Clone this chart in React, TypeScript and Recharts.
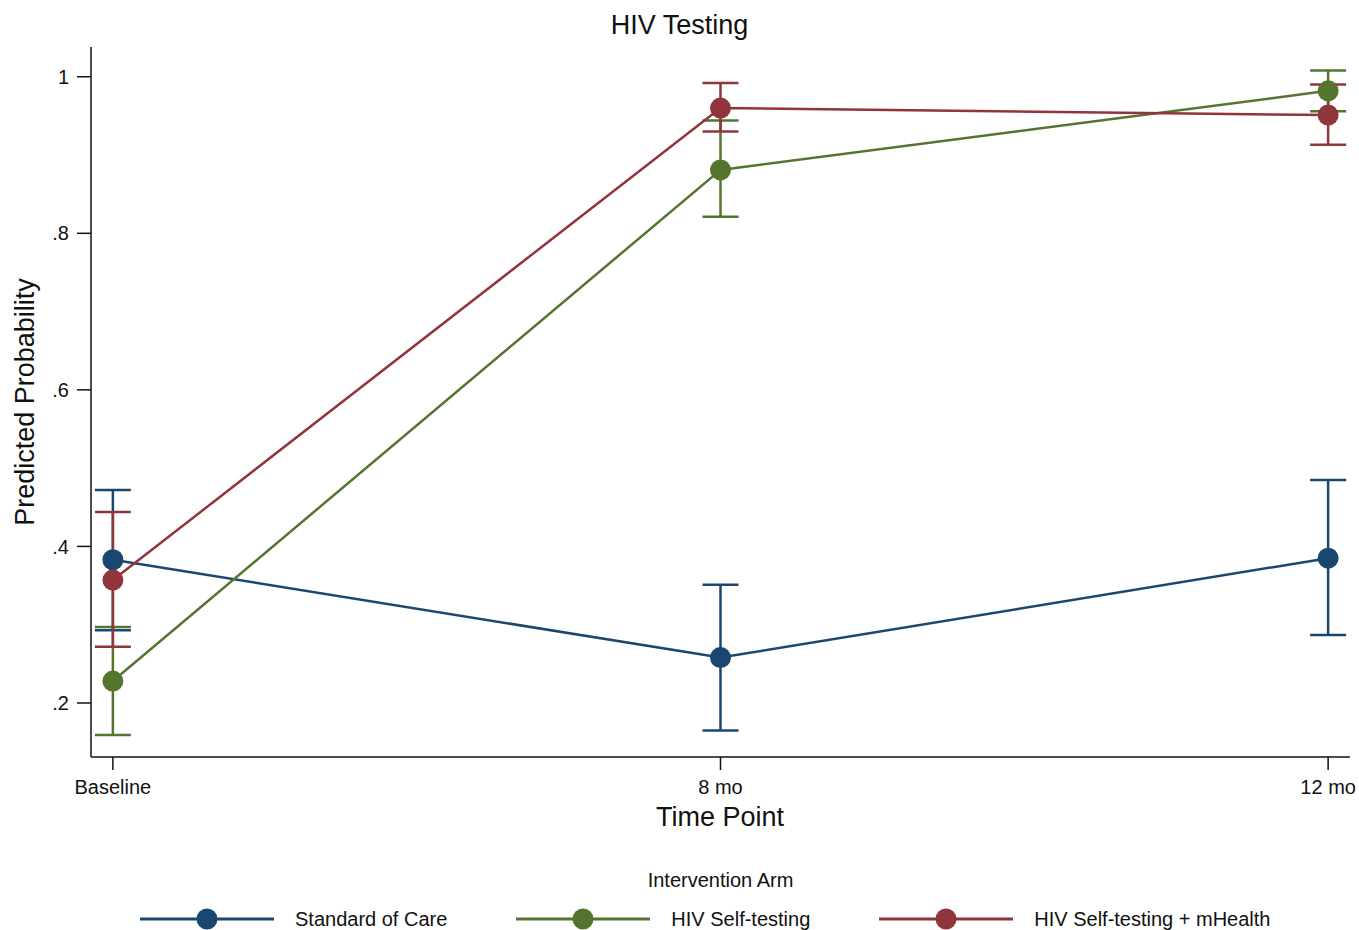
import React from "react";
import {
  LineChart,
  Line,
  XAxis,
  YAxis,
  ErrorBar,
} from "recharts";

const timePoints = ["Baseline", "8 mo", "12 mo"];
const xPos = [0, 1, 2];
const yTicks = [0.2, 0.4, 0.6, 0.8, 1];

// Standard of Care
const socMean = [0.383, 0.258, 0.385];
const socLow = [0.293, 0.165, 0.287];
const socHigh = [0.472, 0.351, 0.485];

// HIV Self-testing
const stMean = [0.228, 0.881, 0.982];
const stLow = [0.159, 0.821, 0.956];
const stHigh = [0.297, 0.944, 1.008];

// HIV Self-testing + mHealth
const mhMean = [0.357, 0.96, 0.951];
const mhLow = [0.272, 0.93, 0.913];
const mhHigh = [0.444, 0.992, 0.99];

const NAVY = "#1a476f";
const GREEN = "#55752f";
const MAROON = "#90353b";
const FONT = '"Liberation Sans", Arial, Helvetica, sans-serif';

const series = [
  { key: "soc", name: "Standard of Care", color: NAVY },
  { key: "st", name: "HIV Self-testing", color: GREEN },
  { key: "mh", name: "HIV Self-testing + mHealth", color: MAROON },
];

const data = xPos.map((x, i) => ({
  x,
  soc: socMean[i],
  socErr: [socMean[i] - socLow[i], socHigh[i] - socMean[i]],
  st: stMean[i],
  stErr: [stMean[i] - stLow[i], stHigh[i] - stMean[i]],
  mh: mhMean[i],
  mhErr: [mhMean[i] - mhLow[i], mhHigh[i] - mhMean[i]],
}));

function fmtY(v: number) {
  if (v === 1) return "1";
  return "." + Math.round(v * 10);
}

export default function App() {
  return (
    <div
      style={{
        position: "absolute",
        left: 0,
        top: 0,
        width: 1359,
        height: 930,
        overflow: "hidden",
        background: "#fff",
        fontFamily: FONT,
      }}
    >
      <LineChart
        width={1359}
        height={930}
        data={data}
        margin={{ top: 47, right: 9, left: 0, bottom: 0 }}
      >
        <XAxis
          type="number"
          dataKey="x"
          domain={[-0.036, 2.036]}
          ticks={xPos}
          allowDataOverflow
          tickFormatter={(v) => timePoints[v] ?? ""}
          height={173}
          tickSize={13}
          tickMargin={10}
          stroke="#111"
          strokeWidth={1.5}
          tick={{ fill: "#111", fontSize: 20, fontFamily: FONT }}
          label={{
            content: () => (
              <text
                x={720}
                y={826}
                textAnchor="middle"
                fontSize={27}
                fontFamily={FONT}
                fill="#111"
              >
                Time Point
              </text>
            ),
          }}
        />
        <YAxis
          type="number"
          domain={[0.131, 1.038]}
          ticks={yTicks}
          allowDataOverflow
          tickFormatter={fmtY}
          width={91}
          tickSize={14}
          tickMargin={8}
          stroke="#111"
          strokeWidth={1.5}
          tick={{ fill: "#111", fontSize: 20, fontFamily: FONT }}
          label={{
            content: () => (
              <text
                x={34}
                y={402}
                transform="rotate(-90 34 402)"
                textAnchor="middle"
                fontSize={27}
                fontFamily={FONT}
                fill="#111"
              >
                Predicted Probability
              </text>
            ),
          }}
        />
        {/* confidence caps first, so markers sit on top of them */}
        {series.map((s) => (
          <Line
            key={s.key + "-ci"}
            dataKey={s.key}
            stroke="transparent"
            strokeWidth={0}
            dot={false}
            activeDot={false}
            legendType="none"
            isAnimationActive={false}
          >
            <ErrorBar
              dataKey={s.key + "Err"}
              direction="y"
              width={18}
              stroke={s.color}
              strokeWidth={2.5}
              isAnimationActive={false}
            />
          </Line>
        ))}
        {series.map((s) => (
          <Line
            key={s.key}
            dataKey={s.key}
            name={s.name}
            stroke={s.color}
            strokeWidth={2.5}
            dot={{ r: 10.5, fill: s.color, stroke: s.color, strokeWidth: 0 }}
            activeDot={false}
            isAnimationActive={false}
          />
        ))}
      </LineChart>

      <div
        style={{
          position: "absolute",
          top: 10,
          left: 0,
          width: 1359,
          textAlign: "center",
          fontSize: 27,
          color: "#111",
        }}
      >
        HIV Testing
      </div>

      <div
        style={{
          position: "absolute",
          top: 869,
          left: 0,
          width: 1441,
          textAlign: "center",
          fontSize: 20,
          color: "#111",
        }}
      >
        Intervention Arm
      </div>

      <div
        style={{
          position: "absolute",
          top: 907,
          left: 140,
          display: "flex",
          gap: 69,
          fontSize: 20,
          color: "#111",
          whiteSpace: "nowrap",
        }}
      >
        {series.map((s) => (
          <div
            key={s.key}
            style={{ display: "flex", alignItems: "center", gap: 21 }}
          >
            <svg width={134} height={24}>
              <line
                x1={0}
                x2={134}
                y1={12}
                y2={12}
                stroke={s.color}
                strokeWidth={3}
              />
              <circle cx={67} cy={12} r={10.5} fill={s.color} />
            </svg>
            <span style={{ lineHeight: "24px" }}>{s.name}</span>
          </div>
        ))}
      </div>
    </div>
  );
}
